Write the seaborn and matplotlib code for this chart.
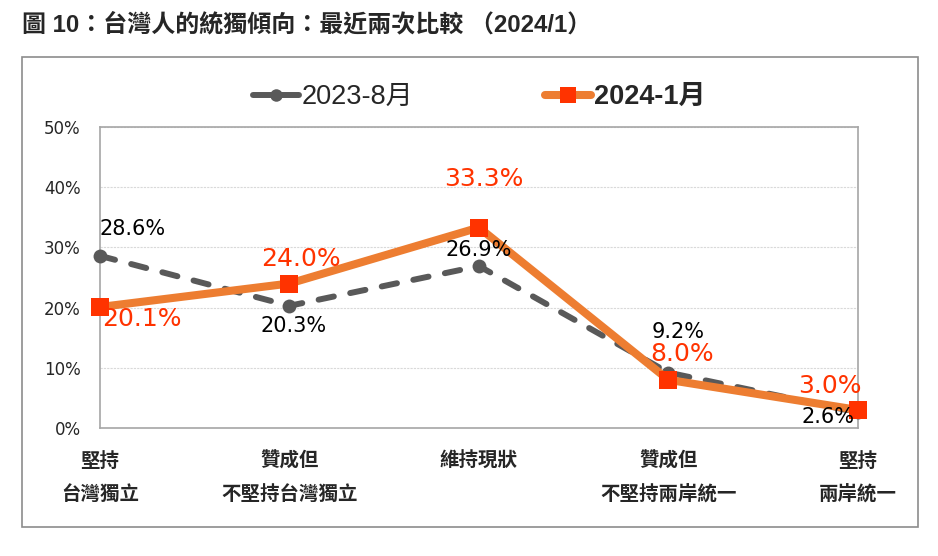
import pandas as pd
import seaborn as sns
import matplotlib.pyplot as plt
from matplotlib.lines import Line2D
from matplotlib.patches import Rectangle

# data
categories = ["堅持\n台灣獨立", "贊成但\n不堅持台灣獨立", "維持現狀", "贊成但\n不堅持兩岸統一", "堅持\n兩岸統一"]
aug_2023 = [28.6, 20.3, 26.9, 9.2, 2.6]
jan_2024 = [20.1, 24.0, 33.3, 8.0, 3.0]
series_names = ["2023-8月", "2024-1月"]
y_ticks = [0, 10, 20, 30, 40, 50]
y_tick_labels = ["0%", "10%", "20%", "30%", "40%", "50%"]
title_text = "圖 10：台灣人的統獨傾向：最近兩次比較 （2024/1）"

# label offsets in pixels from each point
aug_offsets = [(33, 27), (4, -20), (0, 16), (10, 41), (-30, -5)]
jan_offsets = [(42, -12), (11, 25), (5, 49), (14, 26), (-28, 24)]

GRAY = "#595959"
ORANGE = "#ED7D31"
RED = "#FF3300"
CJK = ["Liberation Sans", "Noto Sans CJK TC"]

sns.set_style("white")
plt.rcParams["font.family"] = ["DejaVu Sans", "Noto Sans CJK TC"]

df = pd.DataFrame({"pos": range(len(categories)), "aug": aug_2023, "jan": jan_2024})

fig = plt.figure(figsize=(9.38, 5.56), dpi=100)
ax = fig.add_axes([0.1066, 0.2302, 0.808, 0.5414])

# outer frame
fig.patches.append(Rectangle((0.0235, 0.0522), 0.9552, 0.8453, transform=fig.transFigure,
                             fill=False, edgecolor="#8c8c8c", linewidth=1.2))

sns.lineplot(data=df, x="pos", y="aug", ax=ax, color=GRAY, linewidth=4.3,
             linestyle=(0, (2.6, 2.8)), dash_capstyle="round",
             marker="o", markersize=10, markeredgewidth=0, clip_on=False, zorder=3)
sns.lineplot(data=df, x="pos", y="jan", ax=ax, color=ORANGE, linewidth=5.8,
             solid_capstyle="round", marker="s", markersize=13, markerfacecolor=RED,
             markeredgewidth=0, clip_on=False, zorder=4)

for i, v in enumerate(aug_2023):
    ax.annotate(f"{v:.1f}%", (i, v), xytext=aug_offsets[i], textcoords="offset pixels",
                ha="center", va="center", fontsize=15, color="black", zorder=5)
for i, v in enumerate(jan_2024):
    ax.annotate(f"{v:.1f}%", (i, v), xytext=jan_offsets[i], textcoords="offset pixels",
                ha="center", va="center", fontsize=18, color=RED, zorder=5)

ax.set_xlim(0, len(categories) - 1)
ax.set_ylim(0, 50)
ax.set_xticks(range(len(categories)))
ax.set_xticklabels(categories, fontsize=14, fontweight="bold", family=CJK, linespacing=1.95)
ax.set_yticks(y_ticks)
ax.set_yticklabels(y_tick_labels, fontsize=12)
ax.tick_params(axis="y", length=0, pad=14)
ax.tick_params(axis="x", direction="in", length=4, color="#a6a6a6", pad=17)
ax.set_xlabel("")
ax.set_ylabel("")
ax.yaxis.grid(True, color="#d9d9d9", linewidth=0.8, linestyle=(0, (2, 1)))
for s in ax.spines.values():
    s.set_color("#a6a6a6")
    s.set_linewidth(1.2)

handles = [
    Line2D([], [], color=GRAY, linewidth=4.3, solid_capstyle="round", marker="o",
           markersize=9, markeredgewidth=0),
    Line2D([], [], color=ORANGE, linewidth=5.8, solid_capstyle="round", marker="s",
           markersize=11, markerfacecolor=RED, markeredgewidth=0),
]
leg = ax.legend(handles, series_names, loc="center", bbox_to_anchor=(0.511, 0.8255),
                bbox_transform=fig.transFigure, ncol=2, frameon=False,
                prop=dict(family=CJK, size=19.5), handlelength=1.7, columnspacing=4.85,
                handletextpad=0.1)
leg.get_texts()[1].set_fontweight("bold")

fig.text(0.0235, 1 - 25 / 556, title_text, fontsize=17.3, fontweight="bold", family=CJK,
         ha="left", va="center")

fig.savefig("out.png", dpi=100)
